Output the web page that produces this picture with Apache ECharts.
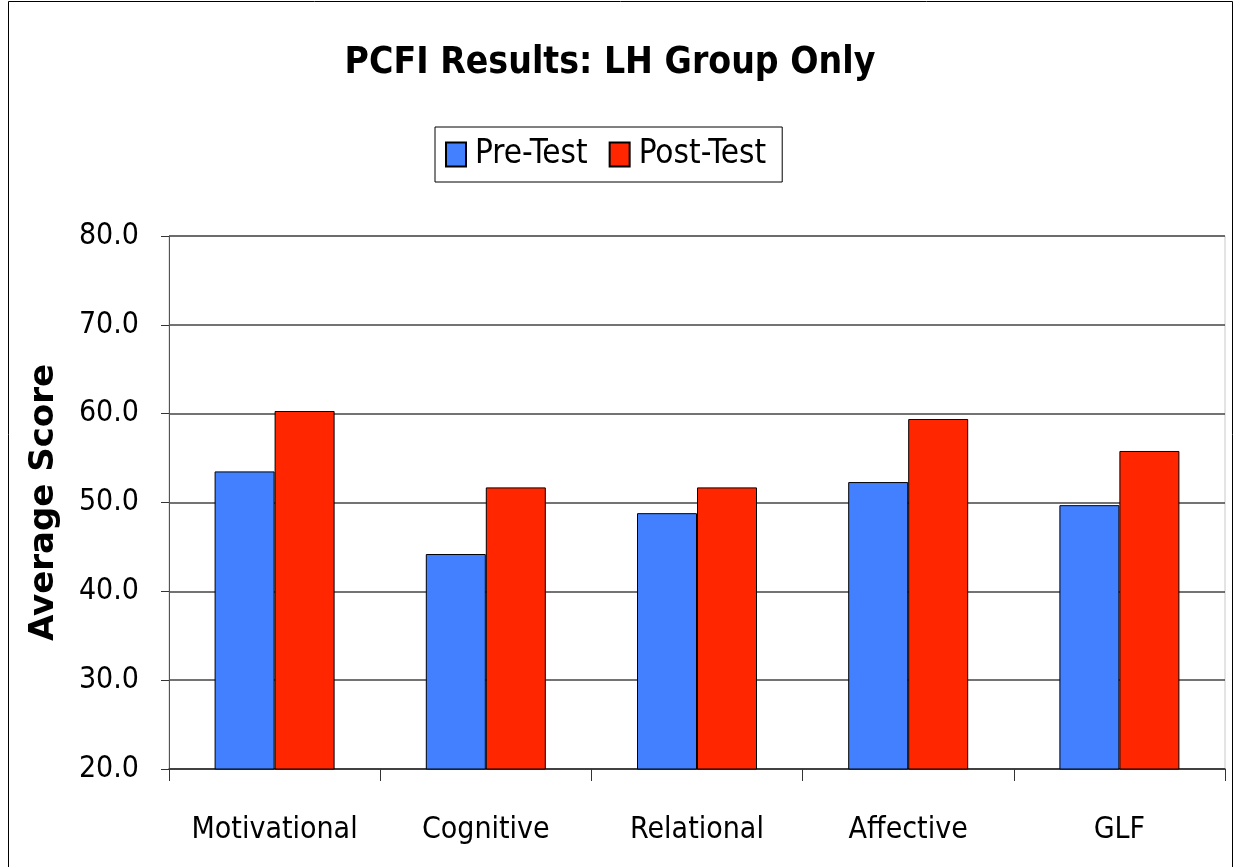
<!DOCTYPE html>
<html>
<head>
<meta charset="utf-8">
<script src="https://cdn.jsdelivr.net/npm/echarts@6/dist/echarts.min.js"></script>
<style>
  html, body { margin: 0; padding: 0; background: #fff; }
  #chart { width: 1235px; height: 867px; }
</style>
</head>
<body>
<div id="chart"></div>
<script>
// data
const categories = ['Motivational', 'Cognitive', 'Relational', 'Affective', 'GLF'];
const preTest = [53.5, 44.2, 48.8, 52.3, 49.7];
const postTest = [60.3, 51.7, 51.7, 59.4, 55.8];
const yTicks = [20, 30, 40, 50, 60, 70, 80];

const font = 'Tahoma, "DejaVu Sans Condensed", "DejaVu Sans", sans-serif';

const myChart = echarts.init(document.getElementById('chart'));

const option = {
    backgroundColor: '#fff',
    animation: false,
    title: {
        text: 'PCFI Results: LH Group Only',
        left: 605, top: 40, textAlign: 'center',
        textStyle: { fontFamily: font, fontSize: 37, fontWeight: 'bold', color: '#000' }
    },
    legend: {
        data: ['Pre-Test', 'Post-Test'],
        left: 435, top: 127, width: 348,
        padding: [11, 16, 11, 10],
        itemWidth: 20, itemHeight: 24, itemGap: 21,
        borderColor: '#000', borderWidth: 1,
        icon: 'rect',
        textStyle: { fontFamily: font, fontSize: 33, color: '#000', padding: [0, 0, 0, 4] }
    },
    grid: {
        left: 169, right: 10, top: 236, bottom: 98,
        show: true, borderColor: '#c8c8c8', borderWidth: 1
    },
    xAxis: {
        type: 'category',
        data: categories,
        axisLine: { lineStyle: { color: '#333', width: 1.5 } },
        axisTick: { show: true, interval: 0, length: 12, lineStyle: { color: '#333' } },
        axisLabel: { interval: 0, fontFamily: font, fontSize: 30, color: '#000', margin: 46 }
    },
    yAxis: {
        type: 'value',
        min: yTicks[0], max: yTicks[yTicks.length - 1], interval: 10,
        name: 'Average Score',
        nameLocation: 'middle', nameGap: 108, nameRotate: 90,
        nameTextStyle: { fontFamily: '"DejaVu Sans", sans-serif', fontSize: 34, fontWeight: 'bold', color: '#000' },
        axisLine: { show: true, lineStyle: { color: '#555', width: 1 } },
        axisTick: { show: true, length: 8, lineStyle: { color: '#333' } },
        axisLabel: { fontFamily: font, fontSize: 30, color: '#000', margin: 30,
            formatter: v => v.toFixed(1) },
        splitLine: { lineStyle: { color: '#444', width: 1.5 } }
    },
    series: [
        {
            name: 'Pre-Test', type: 'bar', data: preTest,
            barWidth: 60, barGap: '0%',
            itemStyle: { color: '#4380ff', borderColor: '#000', borderWidth: 1 }
        },
        {
            name: 'Post-Test', type: 'bar', data: postTest,
            barWidth: 60, barGap: '0%',
            itemStyle: { color: '#ff2600', borderColor: '#000', borderWidth: 1 }
        }
    ],
    graphic: [{
        type: 'rect', silent: true, z: -1,
        shape: { x: 8.5, y: 1.5, width: 1224, height: 870 },
        style: { fill: 'none', stroke: '#000', lineWidth: 1 }
    }]
};
myChart.setOption(option);
</script>
</body>
</html>
